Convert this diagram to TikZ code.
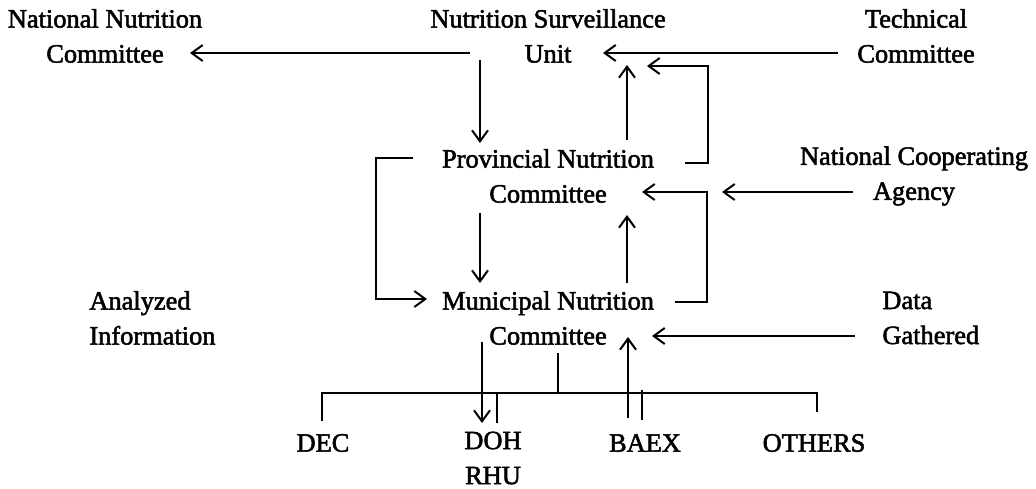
\documentclass[tikz,border=0pt]{standalone}
\usepackage{fontspec}
\newfontfamily\orgfont{Liberation Serif}[FakeBold=2]
\usepackage{tikz}
\usetikzlibrary{arrows.meta,calc}

\begin{document}
\begin{tikzpicture}[
  x=0.5pt, y=-0.5pt,
  lbl/.style={inner sep=0pt, align=center,
    font=\orgfont\fontsize{13.2}{17.5}\selectfont},
  wire/.style={line width=1pt},
  arr/.style={wire, -{Straight Barb[length=5.5pt,width=8pt]}}
]
  \useasboundingbox (0,0) rectangle (1036,488);
  % committees and sources
  \node[lbl] (nnc) at (105,36) {National Nutrition\\Committee};
  \node[lbl] (nsu) at (548,36) {Nutrition Surveillance\\Unit};
  \node[lbl] (tc) at (916,36) {Technical\\Committee};
  \node[lbl] (pnc) at (548,176) {Provincial Nutrition\\Committee};
  \node[lbl] (nca) at (914,176) {National Cooperating\\Agency};
  \node[lbl, align=left, anchor=west] (ai) at (89,318) {Analyzed\\Information};
  \node[lbl] (mnc) at (548,318) {Municipal Nutrition\\Committee};
  \node[lbl, align=left, anchor=west] (dg) at (882,318) {Data\\Gathered};
  \node[lbl] (dec) at (323,443) {DEC};
  \node[lbl] (doh) at (493,458) {DOH\\RHU};
  \node[lbl] (baex) at (645,443) {BAEX};
  \node[lbl] (others) at (814,443) {OTHERS};
  % flows between levels
  \draw[arr] ($(nsu)+(-78,17)$) -- ($(nnc)+(85,17)$);
  \draw[arr] ($(tc)+(-78,17)$) -- ($(nsu)+(55,17)$);
  \draw[arr] ($(nsu)+(-68,24)$) -- ($(pnc)+(-68,-33)$);
  \draw[arr] ($(pnc)+(79,-36)$) -- ($(nsu)+(79,29)$);
  \draw[arr] ($(pnc)+(137,-13)$) -| ($(nsu)+(160,30)$) -- ($(nsu)+(99,30)$);
  \draw[arr] ($(nca)+(-61,16)$) -- ($(pnc)+(174,16)$);
  \draw[arr] ($(mnc)+(127,-16)$) -| ($(pnc)+(159,16)$) -- ($(pnc)+(94,16)$);
  \draw[arr] ($(pnc)+(-68,37)$) -- ($(mnc)+(-68,-35)$);
  \draw[arr] ($(mnc)+(79,-35)$) -- ($(pnc)+(79,39)$);
  \draw[arr] ($(pnc)+(-135,-18)$) -| ($(mnc)+(-172,-19)$) -- ($(mnc)+(-121,-19)$);
  \draw[arr] ($(dg.west)+(-27,18)$) -- ($(mnc)+(104,18)$);
  % agencies below
  \draw[wire] ($(dec)+(-1,-22)$) -- ++(0,-28) -| ($(others)+(3,-31)$);
  \draw[wire] ($(mnc)+(10,35)$) -- ++(0,40);
  \draw[wire] ($(doh)+(4,-35)$) -- ++(0,-30);
  \draw[wire] ($(baex)+(-3,-23)$) -- ++(0,-30);
  \draw[arr] ($(mnc)+(-66,24)$) -- ($(doh)+(-11,-35)$);
  \draw[arr] ($(baex)+(-17,-25)$) -- ($(mnc)+(80,19)$);
\end{tikzpicture}
\end{document}
